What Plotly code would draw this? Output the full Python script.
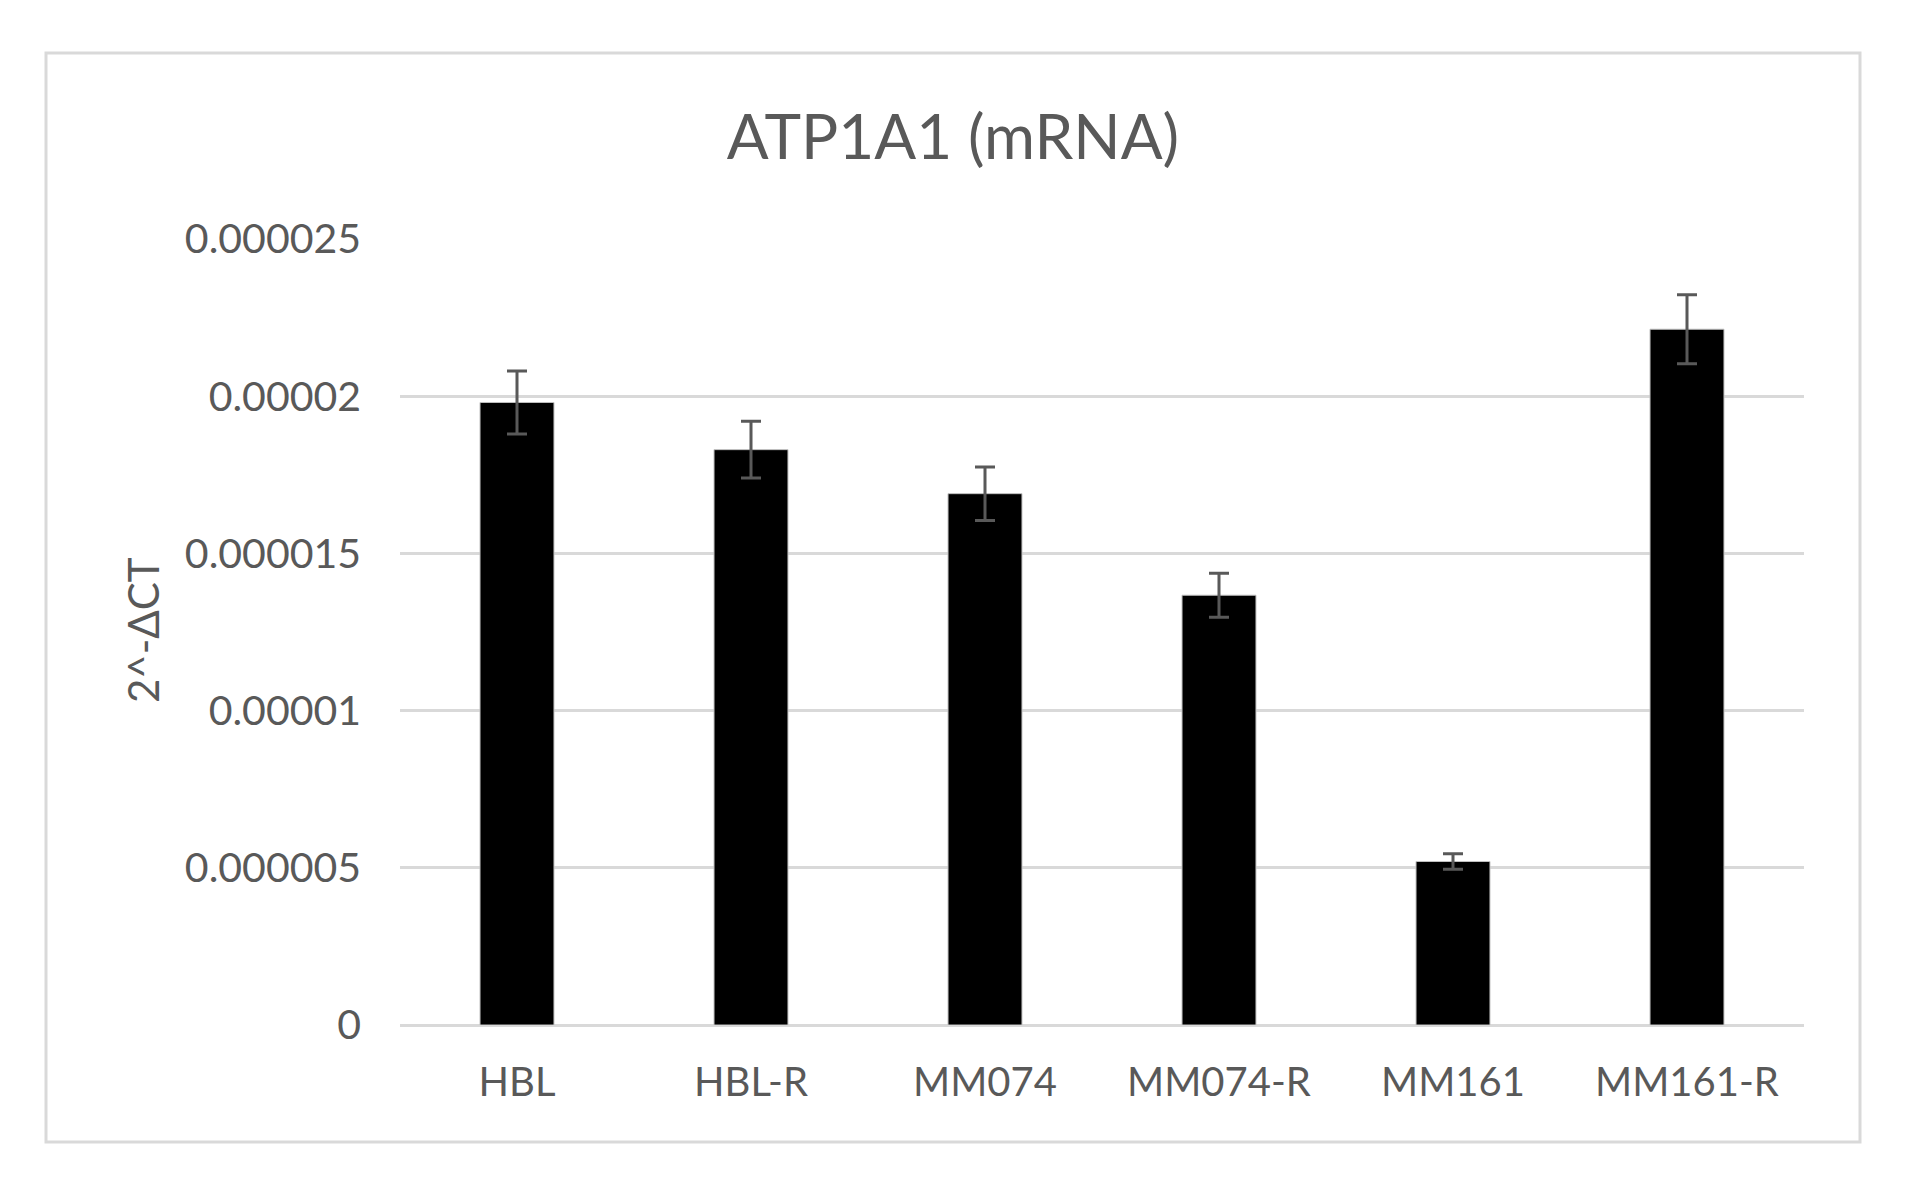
import plotly.graph_objects as go

categories = ["HBL", "HBL-R", "MM074", "MM074-R", "MM161", "MM161-R"]
values = [1.98e-5, 1.83e-5, 1.69e-5, 1.367e-5, 5.2e-6, 2.213e-5]
errors = [1.0e-6, 0.9e-6, 0.85e-6, 0.7e-6, 0.25e-6, 1.1e-6]
ytick_vals = [0, 5e-6, 1e-5, 1.5e-5, 2e-5, 2.5e-5]
ytick_text = ["0", "0.000005", "0.00001", "0.000015", "0.00002", "0.000025"]

FONT = "Lato, 'Open Sans', sans-serif"
GREY = "#595959"

fig = go.Figure()
fig.add_trace(go.Bar(
    x=categories, y=values,
    marker=dict(color="black", line=dict(color="#bfbfbf", width=1)),
    error_y=dict(type="data", array=errors, visible=True, color=GREY, thickness=3, width=10),
    width=0.316,
))

W, H = 1908, 1191
OFF = 8  # page body margin offset
L, R, T, B = 400 - OFF, 104 + OFF, 239 - OFF, 166 + OFF
pw, ph = W - L - R, H - T - B

def px_to_paper_x(px):
    return (px - OFF - L) / pw

def px_to_paper_y(py):
    return (H - B - (py - OFF)) / ph

fig.update_layout(
    width=W, height=H,
    margin=dict(l=L, r=R, t=T, b=B),
    paper_bgcolor="white", plot_bgcolor="white",
    showlegend=False,
    title=dict(text="ATP1A1 (mRNA)", x=(953 - OFF) / W, xref="container", xanchor="center",
               y=1 - (137 - OFF) / H, yref="container", yanchor="middle",
               font=dict(family=FONT, size=62, color=GREY)),
    font=dict(family=FONT, color=GREY),
    xaxis=dict(showgrid=False, showline=False, ticks="", tickfont=dict(size=40, color=GREY),
               ticklabelstandoff=30),
    yaxis=dict(range=[0, 2.5e-5], tickvals=ytick_vals, ticktext=ytick_text,
               showgrid=True, gridcolor="#d9d9d9", gridwidth=3,
               zeroline=True, zerolinecolor="#d9d9d9", zerolinewidth=3,
               showline=False, ticks="", tickfont=dict(size=41, color=GREY),
               ticklabelstandoff=38),
    shapes=[dict(type="rect", xref="paper", yref="paper",
                 x0=px_to_paper_x(46), x1=px_to_paper_x(1860),
                 y0=px_to_paper_y(1142), y1=px_to_paper_y(53),
                 line=dict(color="#d9d9d9", width=3), fillcolor="rgba(0,0,0,0)", layer="below")],
    annotations=[dict(text="2^-ΔCT", textangle=-90, xref="paper", yref="paper",
                      x=px_to_paper_x(143), y=px_to_paper_y(630),
                      xanchor="center", yanchor="middle", showarrow=False,
                      font=dict(family=FONT, size=42, color=GREY))],
)

fig.write_html("out.html")
